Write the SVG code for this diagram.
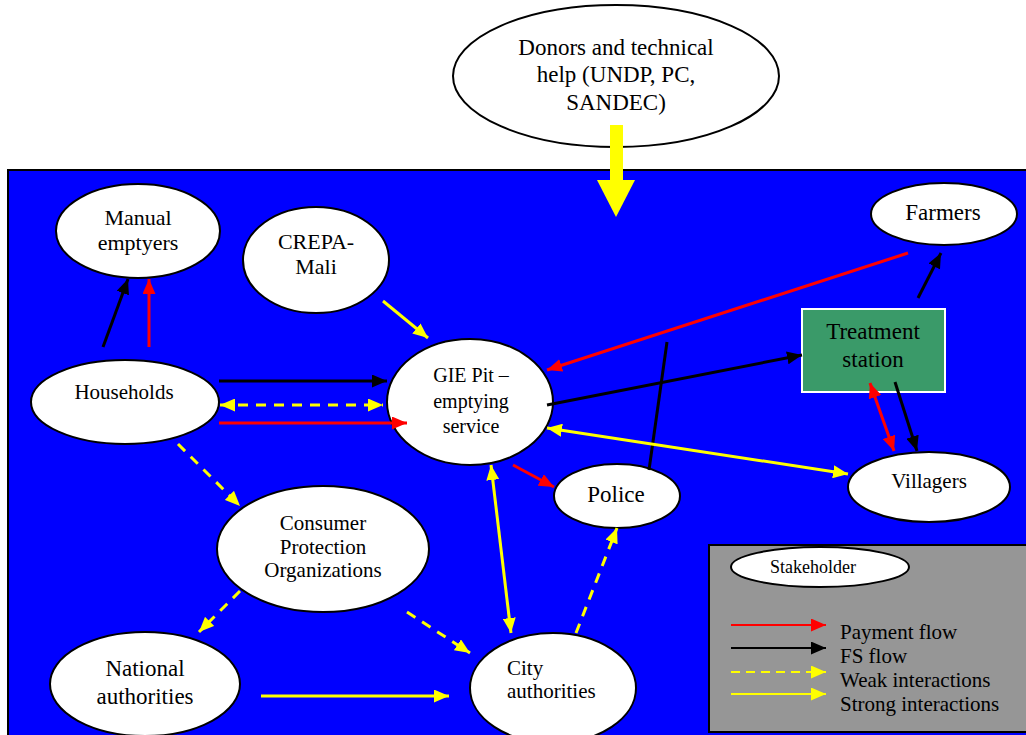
<svg xmlns="http://www.w3.org/2000/svg" width="1026" height="735" viewBox="0 0 1026 735">
<style>
text{font-family:"Liberation Serif","DejaVu Serif","Times New Roman",serif;fill:#000}
.node{fill:#fff;stroke:#000;stroke-width:2}
.t{font-size:20px;text-anchor:middle}
.s24{font-size:24px}
.s23{font-size:23px}
.s22{font-size:22px}
.s21{font-size:21px}
.s18{font-size:18px}
.left{text-anchor:start}
.lg{font-size:21px}
.r{stroke:#ff0000;stroke-width:3;fill:none}
.k{stroke:#000;stroke-width:3;fill:none}
.y{stroke:#ffff00;stroke-width:3;fill:none}
.yd{stroke:#ffff00;stroke-width:3;fill:none;stroke-dasharray:10 8}
</style>
<defs>
<marker id="hr" markerUnits="userSpaceOnUse" markerWidth="15" markerHeight="13" refX="15" refY="6.5" orient="auto-start-reverse"><path d="M0,0 L15,6.5 L0,13 z" fill="#ff0000"/></marker>
<marker id="hk" markerUnits="userSpaceOnUse" markerWidth="15" markerHeight="13" refX="15" refY="6.5" orient="auto-start-reverse"><path d="M0,0 L15,6.5 L0,13 z" fill="#000"/></marker>
<marker id="hy" markerUnits="userSpaceOnUse" markerWidth="15" markerHeight="13" refX="15" refY="6.5" orient="auto-start-reverse"><path d="M0,0 L15,6.5 L0,13 z" fill="#ffff00"/></marker>
</defs>
<rect x="0" y="0" width="1026" height="735" fill="#fff"/>
<rect x="8" y="170" width="1030" height="580" fill="#0000ff" stroke="#000" stroke-width="2"/>

<g id="donors">
<ellipse class="node" cx="616" cy="76" rx="163" ry="71" stroke-width="1.5"/>
<text class="t s23" x="616" y="55">Donors and technical</text>
<text class="t s23" x="616" y="82">help (UNDP, PC,</text>
<text class="t s23" x="616" y="110">SANDEC)</text>
</g>
<g id="donor-arrow">
<rect x="610" y="125" width="13" height="56" fill="#ffff00"/>
<path d="M597,180 L635,180 L616,217 z" fill="#ffff00"/>
</g>

<g id="manual-emptyers">
<ellipse class="node" cx="138" cy="231" rx="82" ry="47"/>
<text class="t s22" x="138" y="225">Manual</text>
<text class="t s22" x="138" y="250">emptyers</text>
</g>
<g id="crepa">
<ellipse class="node" cx="316" cy="260" rx="73" ry="53"/>
<text class="t s22" x="316" y="249">CREPA-</text>
<text class="t s22" x="316" y="274">Mali</text>
</g>
<g id="households">
<ellipse class="node" cx="125" cy="402" rx="94" ry="42"/>
<text class="t s21" x="124" y="399">Households</text>
</g>
<g id="gie">
<ellipse class="node" cx="470" cy="402" rx="83" ry="63"/>
<text class="t" x="471" y="382">GIE Pit –</text>
<text class="t" x="471" y="408">emptying</text>
<text class="t" x="471" y="433">service</text>
</g>
<g id="farmers">
<ellipse class="node" cx="944" cy="214" rx="73" ry="31"/>
<text class="t s23" x="943" y="220">Farmers</text>
</g>
<g id="treatment">
<rect x="802" y="309" width="143" height="83" fill="#3a9a69" stroke="#fff" stroke-width="2"/>
<text class="t s23" x="873" y="339">Treatment</text>
<text class="t s23" x="873" y="367">station</text>
</g>
<g id="villagers">
<ellipse class="node" cx="929" cy="487" rx="81" ry="35"/>
<text class="t s21" x="929" y="488">Villagers</text>
</g>
<g id="police">
<ellipse class="node" cx="617" cy="496" rx="63" ry="32"/>
<text class="t s23" x="616" y="502">Police</text>
</g>
<g id="consumer">
<ellipse class="node" cx="323" cy="549" rx="106" ry="63"/>
<text class="t s21" x="323" y="530">Consumer</text>
<text class="t s21" x="323" y="554">Protection</text>
<text class="t s21" x="323" y="577">Organizations</text>
</g>
<g id="national">
<ellipse class="node" cx="145" cy="684" rx="95" ry="52"/>
<text class="t s23" x="145" y="676">National</text>
<text class="t s23" x="145" y="704">authorities</text>
</g>
<g id="city">
<ellipse class="node" cx="553" cy="688" rx="83" ry="55"/>
<text class="t s21 left" x="507" y="675">City</text>
<text class="t s21 left" x="507" y="698">authorities</text>
</g>

<g id="connectors">
<line class="k" x1="103" y1="347" x2="128" y2="279" marker-end="url(#hk)"/>
<line class="r" x1="149" y1="347" x2="149" y2="279" marker-end="url(#hr)"/>
<line class="y" x1="383" y1="301" x2="428" y2="338" stroke-width="2" marker-end="url(#hy)"/>
<line class="k" x1="219" y1="381" x2="387" y2="381" marker-end="url(#hk)"/>
<line class="yd" x1="220" y1="405" x2="383" y2="405" marker-start="url(#hy)" marker-end="url(#hy)"/>
<line class="r" x1="219" y1="423" x2="407" y2="423" marker-end="url(#hr)"/>
<line class="yd" x1="178" y1="444" x2="240" y2="506" marker-end="url(#hy)"/>
<line class="yd" x1="240" y1="591" x2="199" y2="632" marker-end="url(#hy)"/>
<line class="yd" x1="407" y1="612" x2="470" y2="653" marker-end="url(#hy)"/>
<line class="y" x1="261" y1="696" x2="449" y2="696" marker-end="url(#hy)"/>
<line class="y" x1="491" y1="465" x2="511" y2="633" marker-start="url(#hy)" marker-end="url(#hy)"/>
<line class="yd" x1="576" y1="633" x2="617" y2="528" marker-end="url(#hy)"/>
<line class="r" x1="513" y1="465" x2="554" y2="487" marker-end="url(#hr)"/>
<line class="k" x1="649" y1="470" x2="667" y2="342"/>
<line class="k" x1="547" y1="405" x2="802" y2="355" marker-end="url(#hk)"/>
<line class="r" x1="908" y1="253" x2="547" y2="370" marker-end="url(#hr)"/>
<line class="k" x1="918" y1="298" x2="941" y2="253" marker-end="url(#hk)"/>
<line class="r" x1="870" y1="383" x2="894" y2="451" marker-start="url(#hr)" marker-end="url(#hr)"/>
<line class="k" x1="895" y1="382" x2="917" y2="451" marker-end="url(#hk)"/>
<line class="y" x1="547" y1="428" x2="848" y2="474" marker-start="url(#hy)" marker-end="url(#hy)"/>
</g>

<g id="legend">
<rect x="709" y="545" width="330" height="187" fill="#969696" stroke="#000" stroke-width="2"/>
<ellipse class="node" cx="820" cy="567" rx="89" ry="20" stroke-width="1.5"/>
<text class="t s18" x="813" y="573">Stakeholder</text>
<line x1="731" y1="625" x2="826" y2="625" stroke="#ff0000" stroke-width="2" marker-end="url(#hr)"/>
<line x1="731" y1="648" x2="826" y2="648" stroke="#000" stroke-width="2" marker-end="url(#hk)"/>
<line x1="731" y1="672" x2="826" y2="672" stroke="#ffff00" stroke-width="2" stroke-dasharray="9 6" marker-end="url(#hy)"/>
<line x1="731" y1="694" x2="826" y2="694" stroke="#ffff00" stroke-width="2" marker-end="url(#hy)"/>
<text class="lg" x="840" y="639">Payment flow</text>
<text class="lg" x="840" y="663">FS flow</text>
<text class="lg" x="840" y="687">Weak interactions</text>
<text class="lg" x="840" y="711">Strong interactions</text>
</g>
</svg>
